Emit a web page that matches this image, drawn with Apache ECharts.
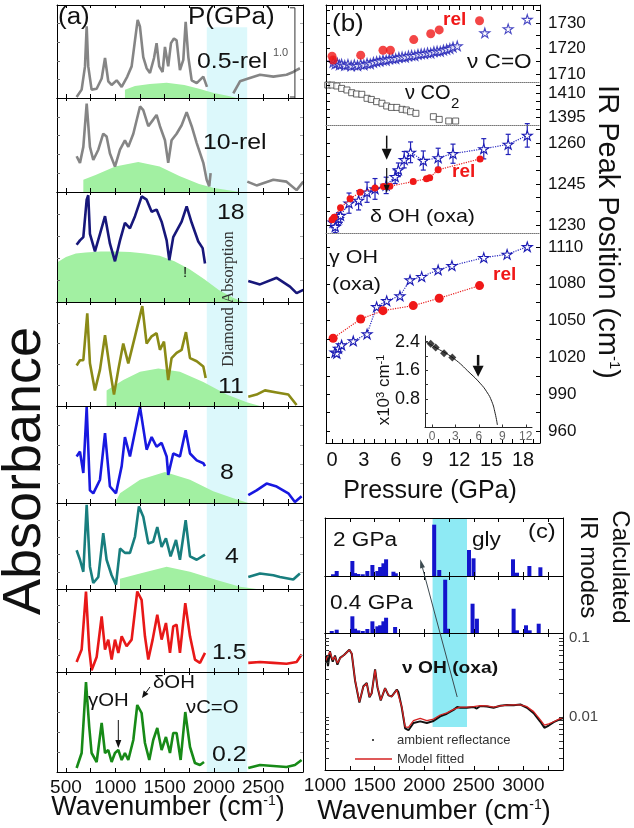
<!DOCTYPE html>
<html>
<head>
<meta charset="utf-8">
<script src="https://cdn.jsdelivr.net/npm/echarts@6/dist/echarts.min.js"></script>
<style>
html,body{margin:0;padding:0;background:#fff}
#chart{width:634px;height:828px}
</style>
</head>
<body>
<div id="chart"></div>
<script>
const FONT = '"Liberation Sans", Arial, Helvetica, sans-serif';
const SERIF = '"Liberation Serif", "Times New Roman", serif';

// ---------- (a) IR absorbance spectra, one per pressure ----------
const pressureLabels = ['0.5-rel', '10-rel', '18', '11', '8', '4', '1.5', '0.2'];
const wnRangeA = [409, 2904];
const wnTicksA = [500, 750, 1000, 1250, 1500, 1750, 2000, 2250, 2500, 2750];
const wnLabelsA = [500, 1000, 1500, 2000, 2500];
const diamondWindowA = [1928, 2338];

const spec05rel = [[608,0.01],[659,0.09],[693,0.34],[710,0.77],[726,0.34],[760,0.09],[811,0.10],[862,0.21],[896,0.43],[929,0.18],[963,0.14],[1014,0.19],[1065,0.12],[1122,0.23],[1166,0.34],[1200,0.62],[1227,0.84],[1250,0.77],[1284,0.44],[1318,0.32],[1352,0.27],[1393,0.43],[1419,0.59],[1446,0.34],[1480,0.28],[1504,0.55],[1537,0.34],[1565,0.59],[1595,0.64],[1622,0.62],[1656,0.30],[1690,0.41],[1714,0.82],[1741,0.44],[1775,0.19],[1826,0.16],[1893,0.23],[1930,0.12]];
const spec05relTail = [[2197,0.05],[2265,0.18],[2349,0.21],[2468,0.25],[2603,0.23],[2737,0.25],[2805,0.28],[2873,0.32]];
const green05rel = [[1098,0],[1098,0.09],[1200,0.13],[1350,0.15],[1521,0.165],[1700,0.14],[1850,0.10],[2000,0.054],[2150,0.022],[2231,0]];

const spec10rel = [[608,0.38],[642,0.31],[676,0.48],[710,0.94],[743,0.48],[777,0.34],[828,0.45],[878,0.62],[912,0.59],[946,0.41],[997,0.27],[1048,0.45],[1098,0.55],[1132,0.48],[1183,0.62],[1251,0.91],[1284,0.87],[1335,0.70],[1385,0.77],[1419,0.82],[1453,0.70],[1504,0.55],[1537,0.31],[1571,0.55],[1622,0.62],[1673,0.71],[1724,0.85],[1775,0.70],[1826,0.52],[1893,0.31],[1927,0.13],[1953,0.06],[1967,0.20]];
const spec10relTail = [[2339,0.11],[2433,0.07],[2603,0.13],[2737,0.11],[2839,0.02],[2907,0.11]];
const green10rel = [[676,0],[676,0.13],[800,0.18],[1000,0.27],[1233,0.32],[1450,0.27],[1650,0.17],[1850,0.085],[2000,0.043],[2265,0]];

const spec18 = [[608,0.52],[642,0.56],[676,0.59],[710,0.93],[726,0.97],[743,0.62],[794,0.46],[845,0.62],[896,0.78],[946,0.53],[997,0.37],[1048,0.56],[1098,0.72],[1149,0.67],[1200,0.78],[1268,0.96],[1318,0.93],[1369,0.82],[1419,0.84],[1470,0.73],[1521,0.56],[1548,0.38],[1588,0.59],[1673,0.73],[1724,0.87],[1775,0.72],[1842,0.55],[1886,0.49],[1910,0.35]];
const spec18Tail = [[2349,0.19],[2468,0.16],[2637,0.22],[2772,0.14],[2839,0.08],[2907,0.11]];
const green18 = [[409,0],[409,0.36],[500,0.41],[600,0.44],[700,0.45],[850,0.46],[1000,0.46],[1150,0.455],[1300,0.44],[1450,0.42],[1600,0.37],[1750,0.30],[1900,0.21],[2050,0.11],[2200,0.036],[2300,0]];

const spec11 = [[608,0.39],[642,0.44],[676,0.44],[716,0.89],[743,0.41],[794,0.15],[845,0.35],[896,0.68],[946,0.35],[987,0.11],[1031,0.35],[1081,0.60],[1132,0.41],[1200,0.67],[1274,0.96],[1318,0.60],[1369,0.67],[1419,0.70],[1453,0.54],[1494,0.62],[1537,0.25],[1571,0.46],[1622,0.51],[1673,0.54],[1717,0.71],[1758,0.46],[1826,0.43],[1893,0.38],[1917,0.27]];
const spec11Tail = [[2349,0.09],[2433,0.11],[2518,0.15],[2637,0.13],[2755,0.11],[2839,0.01]];
const green11 = [[912,0],[912,0.15],[1081,0.25],[1251,0.33],[1436,0.36],[1656,0.33],[1893,0.23],[2130,0.11],[2333,0.035],[2468,0]];

const spec8 = [[608,0.48],[642,0.53],[676,0.31],[710,0.99],[743,0.13],[777,0.10],[845,0.24],[896,0.72],[946,0.17],[1007,0.10],[1065,0.38],[1098,0.68],[1149,0.48],[1251,0.99],[1318,0.55],[1369,0.68],[1419,0.58],[1470,0.62],[1521,0.48],[1537,0.29],[1588,0.51],[1656,0.48],[1714,0.75],[1758,0.51],[1826,0.44],[1893,0.41],[1910,0.38]];
const spec8Tail = [[2349,0.08],[2433,0.13],[2535,0.20],[2637,0.17],[2755,0.10],[2822,0.01],[2890,0.07]];
const green8 = [[997,0],[1048,0.10],[1251,0.24],[1504,0.32],[1758,0.24],[1994,0.12],[2197,0.05],[2349,0]];

const spec4 = [[608,0.45],[642,0.34],[676,0.20],[710,0.98],[743,0.26],[777,0.07],[828,0.14],[878,0.65],[912,0.34],[963,0.16],[1007,0.05],[1048,0.47],[1098,0.42],[1149,0.42],[1200,0.61],[1240,0.96],[1284,0.84],[1335,0.53],[1385,0.55],[1426,0.72],[1470,0.49],[1514,0.59],[1561,0.38],[1616,0.57],[1656,0.34],[1714,0.80],[1758,0.38],[1826,0.34],[1910,0.40]];
const spec4Tail = [[2349,0.14],[2468,0.18],[2603,0.16],[2670,0.14],[2805,0.11],[2873,0.18]];
const green4 = [[1048,0],[1048,0.12],[1251,0.18],[1521,0.26],[1758,0.20],[2028,0.105],[2265,0.027],[2433,0]];

const spec15 = [[608,0.12],[659,0.27],[703,0.97],[736,0.27],[760,0.02],[811,0.18],[862,0.67],[896,0.27],[929,0.39],[963,0.15],[997,0.39],[1031,0.23],[1065,0.43],[1115,0.31],[1166,0.39],[1223,0.97],[1267,0.87],[1301,0.43],[1335,0.15],[1379,0.39],[1426,0.69],[1470,0.39],[1514,0.59],[1555,0.23],[1588,0.55],[1622,0.57],[1656,0.23],[1710,0.83],[1758,0.43],[1808,0.15],[1859,0.11],[1910,0.23]];
const spec15Tail = [[2349,0.11],[2468,0.12],[2603,0.11],[2737,0.10],[2839,0.12],[2890,0.21]];

const spec02 = [[608,0.04],[659,0.19],[703,0.90],[736,0.45],[760,0.19],[811,0.10],[862,0.49],[896,0.19],[929,0.22],[963,0.10],[997,0.19],[1031,0.22],[1065,0.12],[1098,0.19],[1132,0.12],[1183,0.32],[1223,0.67],[1267,0.59],[1301,0.29],[1345,0.12],[1385,0.32],[1426,0.44],[1470,0.22],[1514,0.35],[1555,0.19],[1588,0.39],[1622,0.39],[1663,0.12],[1710,0.60],[1758,0.25],[1808,0.09],[1859,0.07],[1900,0.10]];
const spec02Tail = [[2349,0.04],[2468,0.07],[2603,0.06],[2737,0.05],[2822,0.07],[2890,0.12]];

// ---------- (b) peak positions vs pressure ----------
const pressureTicks = [0,1,2,3,4,5,6,7,8,9,10,11,12,13,14,15,16,17,18,19];
const pressureLabelsB = [0, 3, 6, 9, 12, 15, 18];

const coRel = [[0.0,1717.0],[0.1,1715.5],[2.7,1717.4],[4.8,1719.3],[5.5,1719.3],[7.7,1723.5],[9.3,1725.8],[10.1,1727.3],[13.9,1730.9]];
const coStars = [[0.1,1714.6],[0.3,1714.0],[0.5,1714.3],[0.7,1713.6],[0.9,1713.9],[1.2,1713.4],[1.5,1713.8],[1.8,1713.2],[2.1,1713.6],[2.4,1713.3],[2.7,1713.9],[3.0,1713.6],[3.3,1714.2],[3.6,1714.0],[3.9,1714.6],[4.2,1714.9],[4.5,1715.1],[4.8,1715.5],[5.1,1715.4],[5.4,1715.9],[5.7,1716.1],[6.0,1716.0],[6.3,1716.5],[6.6,1716.7],[6.9,1716.6],[7.2,1717.1],[7.5,1717.3],[7.8,1717.2],[8.1,1717.7],[8.4,1717.9],[8.7,1718.0],[9.0,1718.3],[9.3,1718.2],[9.6,1718.8],[9.9,1719.0],[10.2,1718.9],[10.5,1719.4],[10.8,1719.7],[11.1,1720.0],[11.4,1720.6],[11.8,1721.0],[14.4,1726.1],[16.6,1727.7],[18.4,1731.4]];

const co2Squares = [[-0.4,1415.0],[0.0,1415.0],[0.45,1414.4],[0.9,1412.9],[1.4,1411.9],[1.85,1410.2],[2.3,1409.4],[2.8,1409.2],[3.3,1406.7],[3.7,1406.0],[4.2,1404.6],[4.7,1403.6],[5.15,1401.9],[5.6,1401.0],[6.1,1401.0],[6.6,1399.8],[7.0,1399.4],[7.4,1398.3],[7.9,1397.3],[9.55,1395.2],[10.1,1393.5],[11.0,1392.5],[11.65,1392.5]];

// [pressure, position, error]
const dOHStars = [[0.1,1231.0,2.0],[0.3,1229.4,2.2],[0.6,1232.3,2.2],[0.8,1233.5,2.5],[1.6,1238.0,3.7],[2.5,1239.0,3.5],[3.3,1242.0,3.7],[4.05,1243.2,3.8],[5.1,1244.5,3.0],[5.95,1247.7,2.5],[6.25,1250.2,2.5],[6.8,1253.9,3.0],[7.4,1256.6,3.8],[8.6,1253.6,3.5],[10.0,1254.6,3.5],[11.4,1256.1,3.5],[14.3,1257.9,3.7],[16.6,1259.5,3.7],[18.4,1262.8,4.3]];
const dOHRel = [[0.0,1231.9],[0.2,1232.8],[0.8,1236.3],[1.7,1239.6],[2.65,1242.0],[4.05,1243.5],[4.85,1244.1],[5.45,1244.2],[7.65,1245.9],[8.9,1246.9],[9.2,1247.3],[10.0,1250.2],[13.95,1254.2]];

const gOHStars = [[0.28,1024.2],[0.45,1023.4],[0.6,1027.4],[0.9,1030.1],[2.0,1033.4],[3.3,1039.1],[4.2,1061.3],[5.15,1066.2],[6.4,1070.1],[7.35,1083.1],[8.45,1085.8],[10.0,1091.3],[11.3,1094.8],[14.3,1101.3],[16.5,1104.0],[18.4,1110.2]];
const gOHRel = [[0.1,1035.6],[2.7,1051.3],[4.8,1058.1],[7.65,1062.2],[10.1,1068.2],[13.9,1078.5]];

// inset: x10^3 cm^-1 vs pressure
const insetPoints = [[-0.17,2.34],[0.47,2.24],[1.54,2.08],[2.6,1.96]];
const insetCurve = [[-0.9,2.41],[0.6,2.22],[2.73,1.94],[4.87,1.52],[6.15,1.24],[7.0,1.0],[7.65,0.73],[8.08,0.40],[8.37,0.07]];

// ---------- (c) calculated IR modes and reflectance ----------
const wnRangeC = [1000, 3400];
const wnTicksC = [1000,1250,1500,1750,2000,2250,2500,2750,3000,3250];
const wnLabelsC = [1000, 1500, 2000, 2500, 3000];
const ohWindowC = [2085, 2432];
const modes2GPa = [[1081,0.03],[1118,0.086],[1276,0.259],[1303,0.05],[1336,0.035],[1381,0.03],[1427,0.086],[1478,0.19],[1528,0.086],[1556,0.155],[1589,0.219],[1616,0.288],[1690,0.074],[1714,0.047],[2101,0.885],[2152,0.103],[2452,0.448],[2498,0.305],[2896,0.288],[2936,0.057],[3061,0.172],[3172,0.15]];
const modes04GPa = [[1068,0.035],[1118,0.058],[1276,0.293],[1303,0.075],[1336,0.047],[1381,0.035],[1427,0.07],[1478,0.205],[1528,0.117],[1556,0.135],[1589,0.205],[1616,0.268],[1707,0.105],[2212,0.935],[2239,0.075],[2488,0.514],[2532,0.251],[2902,0.426],[2936,0.047],[3027,0.135],[3064,0.047],[3155,0.163]];
const reflAmbient = [[1010,0.050],[1017,0.060],[1030,0.044],[1050,0.068],[1062,0.058],[1078,0.050],[1101,0.060],[1125,0.046],[1152,0.056],[1192,0.061],[1246,0.071],[1270,0.063],[1303,0.029],[1347,0.0152],[1387,0.0245],[1421,0.027],[1448,0.0178],[1471,0.020],[1505,0.040],[1529,0.0238],[1562,0.0162],[1606,0.0232],[1640,0.0188],[1673,0.0182],[1724,0.0222],[1741,0.0205],[1774,0.0132],[1808,0.0072],[1842,0.0068],[1892,0.0084],[1960,0.0088],[2027,0.0084],[2094,0.0089],[2162,0.0102],[2229,0.0110],[2296,0.0123],[2333,0.0134],[2364,0.0131],[2431,0.0131],[2498,0.0134],[2530,0.0128],[2566,0.0138],[2633,0.0136],[2700,0.0131],[2768,0.0139],[2835,0.0142],[2902,0.0141],[2970,0.0144],[3037,0.0131],[3104,0.0112],[3172,0.0087],[3212,0.0073],[3256,0.0078],[3306,0.0086],[3374,0.0094],[3400,0.0097]];
const reflModel = [[1010,0.052],[1017,0.0553],[1050,0.0671],[1078,0.0527],[1101,0.058],[1125,0.0479],[1152,0.0553],[1192,0.061],[1246,0.0705],[1270,0.064],[1303,0.0294],[1347,0.0156],[1387,0.0242],[1421,0.0267],[1448,0.0181],[1471,0.020],[1505,0.0394],[1529,0.0242],[1562,0.0164],[1606,0.0231],[1640,0.019],[1673,0.0181],[1724,0.022],[1741,0.0209],[1774,0.0135],[1808,0.0075],[1842,0.0074],[1892,0.0090],[1960,0.0096],[2027,0.0090],[2094,0.0094],[2162,0.0106],[2229,0.0113],[2296,0.0125],[2364,0.0133],[2431,0.0133],[2498,0.0135],[2566,0.0139],[2633,0.0138],[2700,0.0133],[2768,0.0138],[2835,0.0141],[2902,0.0142],[2970,0.0142],[3037,0.0135],[3104,0.0117],[3172,0.0092],[3212,0.0079],[3256,0.0082],[3306,0.0087],[3374,0.0096],[3400,0.0099]];
const reflLabels = [0.01, 0.1];
const reflTicks = [0.003,0.004,0.005,0.006,0.007,0.008,0.009,0.01,0.02,0.03,0.04,0.05,0.06,0.07,0.08,0.09,0.1];

// ---------- option building ----------
const STAR = 'path://M50,0 L61,35 L98,35 L68,57 L79,91 L50,70 L21,91 L32,57 L2,35 L39,35 Z';
const grid = [], xAxis = [], yAxis = [], series = [];

function vAxis(o) {
  return Object.assign({
    type: 'value', z: 10, splitLine: {show: false},
    axisLine: {show: true, onZero: false, lineStyle: {color: '#000', width: 1}},
    axisTick: {show: false}, axisLabel: {show: false}
  }, o);
}
function ticks(values, len, color) {
  return {show: true, inside: true, length: len, customValues: values, lineStyle: {color: color || '#000', width: 1}};
}
function labels(values, size, color, margin) {
  return {show: true, customValues: values, fontSize: size, color: color || '#111', fontFamily: FONT, margin: margin,
    formatter: v => String(v)};
}
function bandRender(color) {
  return function (params, api) {
    const p0 = api.coord([api.value(0), api.value(3)]);
    const p1 = api.coord([api.value(1), api.value(2)]);
    return {type: 'rect', shape: {x: p0[0], y: p0[1], width: p1[0] - p0[0], height: p1[1] - p0[1]}, style: {fill: color}};
  };
}
function addGrid(left, top, width, height) {
  grid.push({left, top, width, height, outerBoundsMode: 'none', containLabel: false});
  return grid.length - 1;
}

// (a)
const panelA = [[5,93],[98,94],[192,110],[302,104],[406,97],[503,86],[589,83],[672,100]];
const specsA = [
  {main: spec05rel, tail: spec05relTail, green: green05rel, color: '#858585'},
  {main: spec10rel, tail: spec10relTail, green: green10rel, color: '#858585'},
  {main: spec18, tail: spec18Tail, green: green18, color: '#17177A'},
  {main: spec11, tail: spec11Tail, green: green11, color: '#8A8A16'},
  {main: spec8, tail: spec8Tail, green: green8, color: '#1818E0'},
  {main: spec4, tail: spec4Tail, green: green4, color: '#187E7E'},
  {main: spec15, tail: spec15Tail, green: null, color: '#E81818'},
  {main: spec02, tail: spec02Tail, green: null, color: '#178A17'}
];
specsA.forEach((s, i) => {
  const [top, h] = panelA[i];
  const gi = addGrid(57, top, 246, h);
  const last = i === specsA.length - 1;
  const xi = xAxis.length;
  xAxis.push(vAxis({gridIndex: gi, position: 'bottom', min: wnRangeA[0], max: wnRangeA[1],
    axisTick: ticks(wnTicksA, 4), axisLabel: last ? labels(wnLabelsA, 19, '#111', 6) : {show: false}}));
  xAxis.push(vAxis({gridIndex: gi, position: 'top', min: wnRangeA[0], max: wnRangeA[1], axisTick: ticks(wnTicksA, 3)}));
  const yi = yAxis.length;
  yAxis.push(vAxis({gridIndex: gi, position: 'left', min: 0, max: 1, axisTick: ticks([0.2,0.4,0.6,0.8], 3, '#666')}));
  yAxis.push(vAxis({gridIndex: gi, position: 'right', min: 0, max: 1, axisTick: ticks([0.2,0.4,0.6,0.8], 3, '#aaa')}));
  const bandTop = i === 0 ? 0.76 : 1;
  series.push({type: 'custom', xAxisIndex: xi, yAxisIndex: yi, z: 1, silent: true,
    renderItem: bandRender('#DCF8FB'), data: [[diamondWindowA[0], diamondWindowA[1], 0, bandTop]]});
  if (s.green) {
    series.push({type: 'line', xAxisIndex: xi, yAxisIndex: yi, z: 2, data: s.green, symbol: 'none',
      lineStyle: {width: 0}, areaStyle: {color: '#A2F0A2', opacity: 1}, silent: true});
  }
  series.push({id: 'a' + i + '-main', type: 'line', xAxisIndex: xi, yAxisIndex: yi, z: 3, data: s.main, symbol: 'none',
    lineStyle: {width: 2.6, color: s.color}, itemStyle: {color: s.color}});
  series.push({type: 'line', xAxisIndex: xi, yAxisIndex: yi, z: 3, data: s.tail, symbol: 'none',
    lineStyle: {width: 2.6, color: s.color}, itemStyle: {color: s.color}});
});

// (b)
const xRangeB = [-0.57, 19.6];
const panelB = [
  {top: 5, h: 77, range: [1706.86, 1737.06], labels: [1710,1720,1730], ticks: [1710,1715,1720,1725,1730,1735]},
  {top: 82, h: 43, range: [1390, 1416.9], labels: [1395,1410], ticks: [1395,1400,1405,1410,1415]},
  {top: 125, h: 108, range: [1227.07, 1266.6], labels: [1230,1245,1260], ticks: [1230,1235,1240,1245,1250,1255,1260,1265]},
  {top: 233, h: 210, range: [950.2, 1121.4], labels: [960,990,1020,1050,1080,1110], ticks: [960,975,990,1005,1020,1035,1050,1065,1080,1095,1110]}
];
panelB.forEach((p, i) => {
  const gi = addGrid(326, p.top, 214, p.h);
  const xTop = xAxis.length;
  xAxis.push(vAxis({gridIndex: gi, position: 'top', min: xRangeB[0], max: xRangeB[1],
    axisLine: i === 0 ? {show: true, onZero: false, lineStyle: {color: '#000', width: 1}}
                      : {show: true, onZero: false, lineStyle: {color: '#777', width: 1, type: 'dotted'}},
    axisTick: i === 0 ? ticks(pressureTicks, 5) : {show: false}}));
  p.x = xTop;
  if (i === panelB.length - 1) {
    p.x = xAxis.length;
    xAxis.push(vAxis({gridIndex: gi, position: 'bottom', min: xRangeB[0], max: xRangeB[1],
      axisTick: ticks(pressureTicks, 4), axisLabel: labels(pressureLabelsB, 20, '#111', 7)}));
  }
  p.y = yAxis.length;
  yAxis.push(vAxis({gridIndex: gi, position: 'right', min: p.range[0], max: p.range[1],
    axisTick: ticks(p.ticks, 4), axisLabel: labels(p.labels, 17, '#111', 8)}));
  yAxis.push(vAxis({gridIndex: gi, position: 'left', min: p.range[0], max: p.range[1], axisTick: ticks(p.ticks, 4)}));
});
const starStyle = {color: '#ffffff', borderColor: '#1A1AB4', borderWidth: 1.1};
const blueDotted = {color: '#2A2AC0', width: 1.2, type: 'dotted'};
const redDotted = {color: '#E82020', width: 1.2, type: 'dotted'};
const RED = '#F01818';

series.push({type: 'scatter', xAxisIndex: panelB[0].x, yAxisIndex: panelB[0].y, z: 4, data: coStars,
  symbol: STAR, symbolKeepAspect: true, symbolSize: 10, itemStyle: starStyle});
series.push({type: 'scatter', xAxisIndex: panelB[0].x, yAxisIndex: panelB[0].y, z: 5, data: coRel,
  symbol: 'circle', symbolSize: 9, itemStyle: {color: RED}});
series.push({type: 'scatter', xAxisIndex: panelB[1].x, yAxisIndex: panelB[1].y, z: 4, data: co2Squares,
  symbol: 'rect', symbolSize: 6, itemStyle: {color: '#fff', borderColor: '#444', borderWidth: 1}});
series.push({type: 'custom', xAxisIndex: panelB[2].x, yAxisIndex: panelB[2].y, z: 3, silent: true,
  data: dOHStars.map(d => [d[0], d[1] - d[2], d[1] + d[2]]),
  encode: {x: 0, y: [1, 2]},
  renderItem: function (params, api) {
    const lo = api.coord([api.value(0), api.value(1)]);
    const hi = api.coord([api.value(0), api.value(2)]);
    const st = {stroke: '#2020B8', lineWidth: 1.2};
    return {type: 'group', children: [
      {type: 'line', shape: {x1: lo[0], y1: lo[1], x2: hi[0], y2: hi[1]}, style: st},
      {type: 'line', shape: {x1: lo[0] - 2.5, y1: lo[1], x2: lo[0] + 2.5, y2: lo[1]}, style: st},
      {type: 'line', shape: {x1: hi[0] - 2.5, y1: hi[1], x2: hi[0] + 2.5, y2: hi[1]}, style: st}
    ]};
  }});
series.push({id: 'b2-stars', type: 'line', xAxisIndex: panelB[2].x, yAxisIndex: panelB[2].y, z: 4,
  data: dOHStars.map(d => [d[0], d[1]]), symbol: STAR, symbolKeepAspect: true, symbolSize: 10,
  itemStyle: starStyle, lineStyle: blueDotted});
series.push({type: 'line', xAxisIndex: panelB[2].x, yAxisIndex: panelB[2].y, z: 5, data: dOHRel,
  symbol: 'circle', symbolSize: 7, itemStyle: {color: RED}, lineStyle: redDotted});
series.push({type: 'line', xAxisIndex: panelB[3].x, yAxisIndex: panelB[3].y, z: 4, data: gOHStars,
  symbol: STAR, symbolKeepAspect: true, symbolSize: 10, itemStyle: starStyle, lineStyle: blueDotted});
series.push({type: 'line', xAxisIndex: panelB[3].x, yAxisIndex: panelB[3].y, z: 5, data: gOHRel,
  symbol: 'circle', symbolSize: 9, itemStyle: {color: RED}, lineStyle: redDotted});

// inset
{
  const gi = addGrid(425, 336, 107, 91.5);
  const xi = xAxis.length;
  xAxis.push(vAxis({gridIndex: gi, position: 'bottom', min: -0.9, max: 12.8,
    axisLine: {show: true, onZero: false, lineStyle: {color: '#222', width: 1}},
    axisTick: ticks([0,3,6,9,12], 3, '#333'), axisLabel: labels([0,3,6,9,12], 12, '#666', 3)}));
  const yi = yAxis.length;
  yAxis.push(vAxis({gridIndex: gi, position: 'left', min: 0, max: 2.56,
    axisLine: {show: true, onZero: false, lineStyle: {color: '#222', width: 1}},
    axisTick: ticks([0.4,0.8,1.2,1.6,2.0,2.4], 3, '#333'), axisLabel: labels([0.8,1.6,2.4], 18, '#111', 5)}));
  series.push({id: 'inset-curve', type: 'line', xAxisIndex: xi, yAxisIndex: yi, z: 6, data: insetCurve,
    symbol: 'none', smooth: true, lineStyle: {color: '#222', width: 1}});
  series.push({type: 'scatter', xAxisIndex: xi, yAxisIndex: yi, z: 7, data: insetPoints,
    symbol: 'diamond', symbolSize: 8, itemStyle: {color: '#111'}});
}

// (c)
const panelC = [{top: 518, h: 58}, {top: 576, h: 57}, {top: 633, h: 137}];
panelC.forEach((p, i) => {
  const gi = addGrid(325, p.top, 238, p.h);
  const log = i === 2;
  p.x = xAxis.length;
  xAxis.push(vAxis({gridIndex: gi, position: 'bottom', min: wnRangeC[0], max: wnRangeC[1],
    axisTick: ticks(wnTicksC, 4), axisLabel: log ? labels(wnLabelsC, 19, '#111', 6) : {show: false}}));
  xAxis.push(vAxis({gridIndex: gi, position: 'top', min: wnRangeC[0], max: wnRangeC[1], axisTick: ticks(wnTicksC, 4)}));
  p.y = yAxis.length;
  if (log) {
    yAxis.push(vAxis({type: 'log', logBase: 10, gridIndex: gi, position: 'right', min: 0.002133, max: 0.1157,
      axisTick: ticks(reflTicks, 4, '#333'), axisLabel: labels(reflLabels, 15, '#444', 6)}));
    yAxis.push(vAxis({type: 'log', logBase: 10, gridIndex: gi, position: 'left', min: 0.002133, max: 0.1157,
      axisTick: ticks(reflTicks, 4, '#333')}));
  } else {
    yAxis.push(vAxis({gridIndex: gi, position: 'right', min: 0, max: 1}));
    yAxis.push(vAxis({gridIndex: gi, position: 'left', min: 0, max: 1}));
  }
  series.push({type: 'custom', xAxisIndex: p.x, yAxisIndex: p.y, z: 1, silent: true,
    renderItem: bandRender('#8EEAF4'),
    data: [[ohWindowC[0], ohWindowC[1], log ? 0.00746 : 0, log ? 0.1157 : 1]]});
});
series.push({id: 'c0-bars', type: 'bar', xAxisIndex: panelC[0].x, yAxisIndex: panelC[0].y, z: 3, data: modes2GPa,
  barWidth: 4, itemStyle: {color: '#1414CC'}});
series.push({type: 'bar', xAxisIndex: panelC[1].x, yAxisIndex: panelC[1].y, z: 3, data: modes04GPa,
  barWidth: 4, itemStyle: {color: '#1414CC'}});
series.push({id: 'c2-ambient', type: 'line', xAxisIndex: panelC[2].x, yAxisIndex: panelC[2].y, z: 3, data: reflAmbient,
  symbol: 'none', lineStyle: {color: '#111', width: 2}});
series.push({type: 'line', xAxisIndex: panelC[2].x, yAxisIndex: panelC[2].y, z: 4, data: reflModel,
  symbol: 'none', lineStyle: {color: '#D42222', width: 1.3}});

const chart = echarts.init(document.getElementById('chart'), null, {renderer: 'canvas', width: 634, height: 828});
chart.setOption({animation: false, backgroundColor: '#fff', grid, xAxis, yAxis, series});

// ---------- annotations ----------
function txt(x, y, text, size, extra) {
  extra = extra || {};
  return Object.assign({type: 'text', x, y, z: 100, silent: true,
    style: Object.assign({text, fontSize: size, fontFamily: FONT, fill: '#111', align: 'left', verticalAlign: 'middle'}, extra.style || {})},
    extra.el || {});
}
function px(id, pt) { return chart.convertToPixel({seriesId: id}, pt); }
function arrow(p0, p1, head, width, color) {
  const dx = p1[0] - p0[0], dy = p1[1] - p0[1], len = Math.hypot(dx, dy);
  const ux = dx / len, uy = dy / len, nx = -uy, ny = ux;
  const bx = p1[0] - ux * head[1], by = p1[1] - uy * head[1];
  return [
    {type: 'line', z: 90, silent: true, shape: {x1: p0[0], y1: p0[1], x2: bx, y2: by}, style: {stroke: color, lineWidth: width}},
    {type: 'polygon', z: 90, silent: true, shape: {points: [[p1[0], p1[1]], [bx + nx * head[0] / 2, by + ny * head[0] / 2], [bx - nx * head[0] / 2, by - ny * head[0] / 2]]}, style: {fill: color}}
  ];
}
const wide = {el: {scaleX: 1.13}};
const els = [];
function supRich(size, supSize) {
  return {m: {fontSize: size, fontFamily: FONT, fill: '#111'}, s: {fontSize: supSize, verticalAlign: 'top', fontFamily: FONT, fill: '#111'}};
}

// (a) labels
els.push(txt(58, 18, '(a)', 23, wide));
els.push(txt(188, 18, 'P(GPa)', 23, wide));
const labelPosA = [[197,62],[203,143],[217,213],[218,387],[220,473],[225,557],[212,653],[212,755]];
pressureLabels.forEach((t, i) => els.push(txt(labelPosA[i][0], labelPosA[i][1], t, 22, wide)));
els.push(txt(183, 273, '!', 15));
els.push(txt(88, 701, 'γOH', 18, wide));
els.push(txt(153, 683, 'δOH', 18, wide));
els.push(txt(186, 708, 'νC=O', 18, wide));
els.push(txt(229, 299, 'Diamond Absorption', 16, {style: {fontFamily: SERIF, fill: '#333', align: 'center'}, el: {rotation: Math.PI / 2}}));
els.push(txt(25, 471, 'Absorbance', 54, {style: {align: 'center'}, el: {rotation: Math.PI / 2}}));
els.push(txt(168, 808, '{m|Wavenumber (cm}{s|-1}{m|)}', 27, {style: {align: 'center', rich: supRich(27, 14)}}));

// scale bar in the top spectrum panel
{
  const b0 = px('a0-main', [2822, 0]), b1 = px('a0-main', [2822, 0.97]);
  els.push({type: 'line', z: 90, silent: true, shape: {x1: b0[0], y1: b0[1], x2: b1[0], y2: b1[1]}, style: {stroke: '#333', lineWidth: 1}});
  els.push({type: 'line', z: 90, silent: true, shape: {x1: b1[0] - 5, y1: b1[1], x2: b1[0], y2: b1[1]}, style: {stroke: '#333', lineWidth: 1}});
  els.push({type: 'line', z: 90, silent: true, shape: {x1: b0[0] - 5, y1: b0[1] - 1, x2: b0[0], y2: b0[1] - 1}, style: {stroke: '#333', lineWidth: 1}});
  els.push(txt(b1[0] - 22, b1[1] + 45, '1.0', 11, {style: {fill: '#555'}}));
}
els.push(...arrow(px('a7-main', [1031, 0.52]), px('a7-main', [1031, 0.24]), [6, 8], 1, '#111'));
els.push(...arrow(px('a7-main', [1352, 0.85]), px('a7-main', [1271, 0.74]), [6, 7], 1, '#111'));

// (b) labels
els.push(txt(332, 25, '(b)', 23, wide));
els.push(txt(443, 20, 'rel', 19, {style: {fill: RED, fontWeight: 'bold'}}));
els.push(txt(452, 172, 'rel', 19, {style: {fill: RED, fontWeight: 'bold'}}));
els.push(txt(493, 275, 'rel', 19, {style: {fill: RED, fontWeight: 'bold'}}));
els.push(txt(467, 62, 'ν C=O', 20, wide));
els.push(txt(405, 93, 'ν CO', 20));
els.push(txt(451, 104, '2', 15));
els.push(txt(370, 217, 'δ OH (oxa)', 19, wide));
els.push(txt(329, 258, 'γ OH', 19, wide));
els.push(txt(332, 285, '(oxa)', 19, wide));
els.push(txt(430, 491, 'Pressure (GPa)', 25, {style: {align: 'center'}}));
els.push(txt(607, 232, '{m|IR Peak Position (cm}{s|-1}{m|)}', 29, {style: {align: 'center', rich: supRich(29, 15)}, el: {rotation: -Math.PI / 2}}));
els.push(txt(384, 390, '{m|x10}{s|3}{m| cm}{s|-1}', 17, {style: {align: 'center', rich: supRich(17, 11)}, el: {rotation: Math.PI / 2}}));
els.push(...arrow(px('b2-stars', [5.15, 1262.7]), px('b2-stars', [5.15, 1253.9]), [10, 11], 1.5, '#111'));
els.push(...arrow(px('b2-stars', [5.15, 1250.9]), px('b2-stars', [5.15, 1241.8]), [6, 8], 1.2, '#111'));
els.push(...arrow(px('inset-curve', [5.9, 2.03]), px('inset-curve', [5.9, 1.42]), [11, 11], 2.5, '#111'));

// (c) labels
els.push(txt(528, 532, '(c)', 21, wide));
els.push(txt(333, 540, '2 GPa', 20, wide));
els.push(txt(330, 603, '0.4 GPa', 20, wide));
els.push(txt(472, 540, 'gly', 20, wide));
els.push(txt(402, 668, 'ν OH (oxa)', 17, {style: {fontWeight: 'bold'}, el: {scaleX: 1.13}}));
els.push(txt(620, 567, 'Calculated', 24, {style: {align: 'center'}, el: {rotation: -Math.PI / 2}}));
els.push(txt(588, 567, 'IR modes', 24, {style: {align: 'center'}, el: {rotation: -Math.PI / 2}}));
els.push(txt(434, 812, '{m|Wavenumber (cm}{s|-1}{m|)}', 27, {style: {align: 'center', rich: supRich(27, 14)}}));
els.push({type: 'circle', z: 90, silent: true, shape: {cx: 373, cy: 740, r: 1}, style: {fill: '#111'}});
els.push({type: 'line', z: 90, silent: true, shape: {x1: 355, y1: 759, x2: 392, y2: 759}, style: {stroke: '#D42222', lineWidth: 1.3}});
els.push(txt(397, 740, 'ambient reflectance', 13, {style: {fill: '#333'}}));
els.push(txt(397, 759, 'Model fitted', 13, {style: {fill: '#333'}}));
{
  const a0 = px('c2-ambient', [2333, 0.0179]);
  const a1 = px('c0-bars', [1960, 0.29]);
  els.push(...arrow(a0, a1, [5, 9], 1, '#3C4A50'));
}

chart.setOption({graphic: {elements: els}});
</script>
</body>
</html>
